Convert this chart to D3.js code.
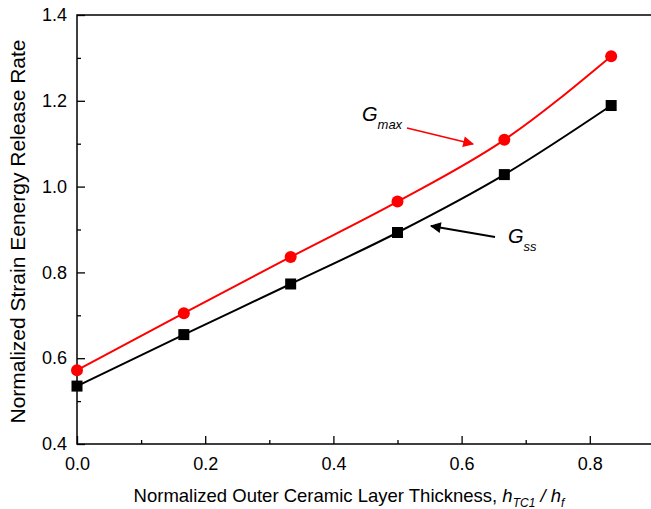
<!DOCTYPE html>
<html>
<head>
<meta charset="utf-8">
<script src="https://cdn.jsdelivr.net/npm/d3@7"></script>
<style>
  body { margin: 0; background: #fff; }
  text { font-family: Arial, "Liberation Sans", sans-serif; }
</style>
</head>
<body>
<div id="chart"></div>
<script>
const thickness = [0, 1 / 6, 1 / 3, 0.5, 2 / 3, 5 / 6]
const gMax = [0.572, 0.705, 0.836, 0.965, 1.109, 1.304]
const gSs = [0.535, 0.655, 0.773, 0.893, 1.028, 1.189]
const xTicks = [0.0, 0.2, 0.4, 0.6, 0.8]
const yTicks = [0.4, 0.6, 0.8, 1.0, 1.2, 1.4]

const W = 651, H = 509
const left = 77
const x = d3.scaleLinear().domain([0, 0.95]).range([left, left + 0.95 * 641])
const y = d3.scaleLinear().domain([0.4, 1.4]).range([444, 15])

const svg = d3.select("#chart").append("svg")
    .attr("width", W)
    .attr("height", H)

// frame (right side runs off the picture)
svg.append("rect")
    .attr("x", x(0)).attr("y", y(1.4))
    .attr("width", x(0.95) - x(0)).attr("height", y(0.4) - y(1.4))
    .attr("fill", "none").attr("stroke", "#000").attr("stroke-width", 1.5)

// axes, ticks pointing inward
const xAxis = svg.append("g")
    .attr("transform", `translate(0,${y(0.4)})`)
    .call(d3.axisBottom(x).tickValues(xTicks).tickFormat(d3.format(".1f")).tickSize(-8).tickPadding(13))
xAxis.append("g").call(d3.axisBottom(x).tickValues([0.1, 0.3, 0.5, 0.7, 0.9]).tickSize(-4).tickFormat(""))

const yAxis = svg.append("g")
    .attr("transform", `translate(${x(0)},0)`)
    .call(d3.axisLeft(y).tickValues(yTicks).tickFormat(d3.format(".1f")).tickSize(-8).tickPadding(10))
yAxis.append("g").call(d3.axisLeft(y).tickValues([0.5, 0.7, 0.9, 1.1, 1.3]).tickSize(-4).tickFormat(""))

svg.selectAll(".domain").remove()
svg.selectAll(".tick line").attr("stroke", "#000").attr("stroke-width", 1.3)
svg.selectAll(".tick text").style("font-size", "18px").attr("fill", "#000")

// axis titles
svg.append("text")
    .attr("transform", `translate(25,${(y(0.4) + y(1.4)) / 2 + 2}) rotate(-90)`)
    .attr("text-anchor", "middle")
    .style("font-size", "21px")
    .text("Normalized Strain Eenergy Release Rate")

const xl = svg.append("text")
    .attr("x", 349).attr("y", 502)
    .attr("text-anchor", "middle")
    .style("font-size", "18.5px")
xl.append("tspan").text("Normalized Outer Ceramic Layer Thickness, ")
xl.append("tspan").style("font-style", "italic").text("h")
xl.append("tspan").attr("dy", 5).style("font-size", "12px").style("font-style", "italic").text("TC1")
xl.append("tspan").attr("dy", -5).style("font-style", "italic").text(" / h")
xl.append("tspan").attr("dy", 5).style("font-size", "12px").style("font-style", "italic").text("f")

// smooth lines through the points
const line = vals => d3.line()
    .x(d => x(d))
    .y((d, i) => y(vals[i]))
    .curve(d3.curveMonotoneX)(thickness)

svg.append("path").attr("d", line(gSs))
    .attr("fill", "none").attr("stroke", "#000").attr("stroke-width", 2)
svg.append("path").attr("d", line(gMax))
    .attr("fill", "none").attr("stroke", "#ff0000").attr("stroke-width", 2)

// markers
svg.selectAll(".sq").data(thickness).join("rect")
    .attr("x", d => x(d) - 5.5).attr("y", (d, i) => y(gSs[i]) - 5.5)
    .attr("width", 11).attr("height", 11).attr("fill", "#000")
svg.selectAll(".dot").data(thickness).join("circle")
    .attr("cx", d => x(d)).attr("cy", (d, i) => y(gMax[i]))
    .attr("r", 6).attr("fill", "#ff0000")

// annotations
const defs = svg.append("defs")
function arrowHead(id, color) {
    defs.append("marker").attr("id", id)
        .attr("viewBox", "0 0 10 10").attr("refX", 9).attr("refY", 5)
        .attr("markerWidth", 7).attr("markerHeight", 6).attr("orient", "auto")
        .append("path").attr("d", "M0,0 L10,5 L0,10 Z").attr("fill", color)
}
arrowHead("ar", "#ff0000")
arrowHead("ab", "#000")

svg.append("line").attr("x1", 407).attr("y1", 128).attr("x2", 473).attr("y2", 144)
    .attr("stroke", "#ff0000").attr("stroke-width", 1.8).attr("marker-end", "url(#ar)")
svg.append("line").attr("x1", 495).attr("y1", 237).attr("x2", 431).attr("y2", 226)
    .attr("stroke", "#000").attr("stroke-width", 1.8).attr("marker-end", "url(#ab)")

const t1 = svg.append("text").attr("x", 362).attr("y", 121).style("font-size", "20px").style("font-style", "italic")
t1.append("tspan").text("G")
t1.append("tspan").attr("dy", 8).style("font-size", "13px").text("max")

const t2 = svg.append("text").attr("x", 508).attr("y", 243).style("font-size", "20px").style("font-style", "italic")
t2.append("tspan").text("G")
t2.append("tspan").attr("dy", 8).style("font-size", "13px").text("ss")
</script>
</body>
</html>
